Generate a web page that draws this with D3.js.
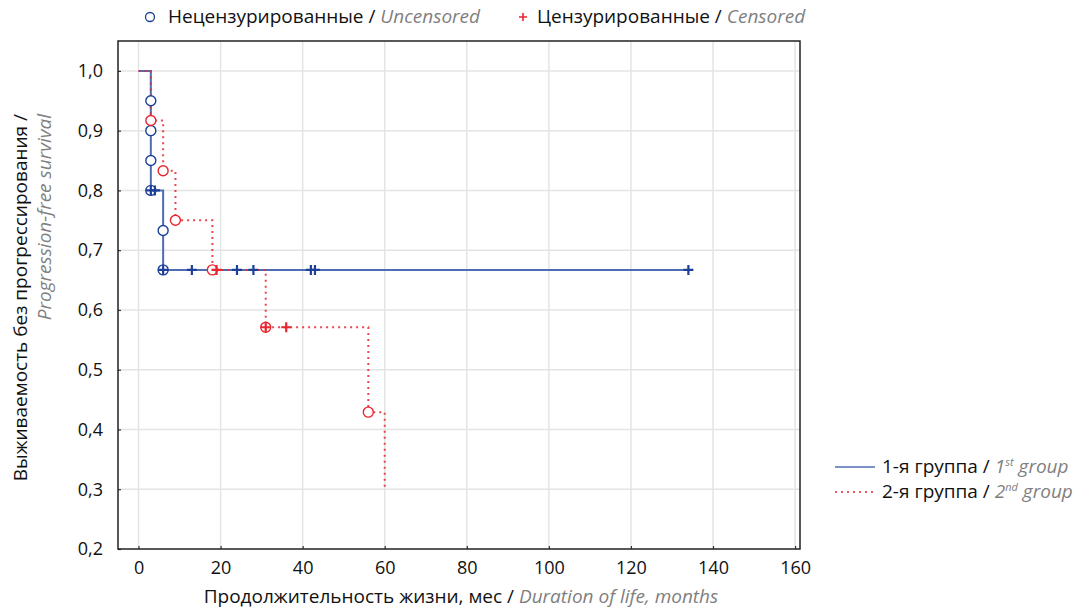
<!DOCTYPE html>
<html>
<head>
<meta charset="utf-8">
<script src="https://cdn.jsdelivr.net/npm/d3@7"></script>
<style>
  body { margin: 0; background: #fff; }
  text { font-family: "Open Sans", "DejaVu Sans", sans-serif; }
</style>
</head>
<body>
<svg id="canvas"></svg>
<script>
// tick labels
const xTicks = [0, 20, 40, 60, 80, 100, 120, 140, 160];
const yTicks = [0.2, 0.3, 0.4, 0.5, 0.6, 0.7, 0.8, 0.9, 1.0];

// group 1 (solid blue) - KM step curve
const g1Time = [0, 3, 6, 134];
const g1Surv = [1.0, 0.8, 0.667, 0.667];
// uncensored events (circles)
const g1EventTime = [3, 3, 3, 3, 6, 6];
const g1EventSurv = [0.95, 0.9, 0.85, 0.8, 0.733, 0.667];
// censored (crosses)
const g1CensTime = [3, 4, 6, 13, 24, 28, 42, 43, 134];
const g1CensSurv = [0.8, 0.8, 0.667, 0.667, 0.667, 0.667, 0.667, 0.667, 0.667];

// group 2 (dotted red)
const g2Time = [0, 3, 6, 9, 18, 31, 56, 60];
const g2Surv = [1.0, 0.917, 0.833, 0.75, 0.667, 0.571, 0.429, 0.3];
const g2EventTime = [3, 6, 9, 18, 31, 56];
const g2EventSurv = [0.917, 0.833, 0.75, 0.667, 0.571, 0.429];
const g2CensTime = [19, 31, 36];
const g2CensSurv = [0.667, 0.571, 0.571];

const width = 1079;
const height = 612;
const svg = d3.select("#canvas").attr("width", width).attr("height", height);

// plot frame
const marginLeft = 118;
const marginRight = 800;
const marginTop = 41;
const marginBottom = 549;

const blueLine = "#4f6db3";
const blueMark = "#1c3f98";
const red = "#e8262f";
const gray = "#7f7f7f";

const x = d3.scaleLinear().domain([-5, 161.2]).range([marginLeft, marginRight]);
const y = d3.scaleLinear().domain([0.2, 1.05]).range([marginBottom, marginTop]);

// grid
svg.append("g").selectAll("line")
    .data(xTicks)
    .join("line")
    .attr("x1", d => x(d)).attr("x2", d => x(d))
    .attr("y1", marginTop).attr("y2", marginBottom)
    .attr("stroke", "#e4e4e4").attr("stroke-width", 1.5);

svg.append("g").selectAll("line")
    .data(yTicks.filter(d => d > 0.2))
    .join("line")
    .attr("x1", marginLeft).attr("x2", marginRight)
    .attr("y1", d => y(d)).attr("y2", d => y(d))
    .attr("stroke", "#e4e4e4").attr("stroke-width", 1.5);

// axes (ticks inward, no domain line - frame drawn separately)
const xAxis = svg.append("g")
    .attr("transform", `translate(0,${marginBottom})`)
    .call(d3.axisBottom(x).tickValues(xTicks).tickSize(-3).tickPadding(12));
const yAxis = svg.append("g")
    .attr("transform", `translate(${marginLeft},0)`)
    .call(d3.axisLeft(y).tickValues(yTicks).tickSize(-3).tickPadding(15)
        .tickFormat(d => d3.format(".1f")(d).replace(".", ",")));
[xAxis, yAxis].forEach(a => {
    a.select(".domain").remove();
    a.selectAll(".tick line").attr("stroke", "#333").attr("stroke-width", 1.2);
    a.selectAll("text").attr("font-size", 18).attr("fill", "#111")
        .style("font-family", "'Open Sans', sans-serif");
});

svg.append("rect")
    .attr("x", marginLeft).attr("y", marginTop)
    .attr("width", marginRight - marginLeft).attr("height", marginBottom - marginTop)
    .attr("fill", "none").attr("stroke", "#222").attr("stroke-width", 1.5);

// step curves
const stepLine = d3.line()
    .x(d => x(d[0]))
    .y(d => y(d[1]))
    .curve(d3.curveStepAfter);

svg.append("path")
    .attr("d", stepLine(d3.zip(g1Time, g1Surv)))
    .attr("fill", "none").attr("stroke", blueLine).attr("stroke-width", 2);

svg.append("path")
    .attr("d", stepLine(d3.zip(g2Time, g2Surv)))
    .attr("fill", "none").attr("stroke", red).attr("stroke-width", 2)
    .attr("stroke-dasharray", "2 4").attr("opacity", 0.85);

// markers
function circles(times, surv, color) {
    svg.append("g").selectAll("circle")
        .data(d3.zip(times, surv))
        .join("circle")
        .attr("cx", d => x(d[0])).attr("cy", d => y(d[1]))
        .attr("r", 5)
        .attr("fill", "#fff").attr("stroke", color).attr("stroke-width", 1.4);
}
function crosses(times, surv, color) {
    const s = 5;
    svg.append("g").selectAll("path")
        .data(d3.zip(times, surv))
        .join("path")
        .attr("d", d => {
            const cx = x(d[0]), cy = y(d[1]);
            return `M${cx - s},${cy}H${cx + s}M${cx},${cy - s}V${cy + s}`;
        })
        .attr("stroke", color).attr("stroke-width", 2.2).attr("fill", "none");
}
circles(g1EventTime, g1EventSurv, blueMark);
circles(g2EventTime, g2EventSurv, red);
crosses(g1CensTime, g1CensSurv, blueMark);
crosses(g2CensTime, g2CensSurv, red);

// top legend
svg.append("circle").attr("cx", 150).attr("cy", 17).attr("r", 4.5)
    .attr("fill", "#fff").attr("stroke", blueMark).attr("stroke-width", 1.3);
const t1 = svg.append("text").attr("x", 168).attr("y", 23).attr("font-size", 19);
t1.append("tspan").text("Нецензурированные / ").attr("fill", "#111");
t1.append("tspan").text("Uncensored").attr("fill", gray).attr("font-style", "italic");

svg.append("path").attr("d", "M519,17H527M523,13V21")
    .attr("stroke", red).attr("stroke-width", 1.6);
const t2 = svg.append("text").attr("x", 537).attr("y", 23).attr("font-size", 19);
t2.append("tspan").text("Цензурированные / ").attr("fill", "#111");
t2.append("tspan").text("Censored").attr("fill", gray).attr("font-style", "italic");

// right legend
const groups = [
    { name: "1-я группа / ", num: "1", sup: "st", color: blueLine, dash: null },
    { name: "2-я группа / ", num: "2", sup: "nd", color: red, dash: "2 4" }
];
groups.forEach((g, i) => {
    const ly = 467 + i * 25;
    svg.append("line")
        .attr("x1", 835).attr("x2", 875).attr("y1", ly).attr("y2", ly)
        .attr("stroke", g.color).attr("stroke-width", 1.6)
        .attr("stroke-dasharray", g.dash);
    const t = svg.append("text").attr("x", 882).attr("y", ly + 6).attr("font-size", 19).attr("fill", "#111");
    t.append("tspan").text(g.name);
    t.append("tspan").text(g.num).attr("fill", gray).attr("font-style", "italic");
    t.append("tspan").text(g.sup).attr("fill", gray).attr("font-style", "italic")
        .attr("font-size", 11).attr("dy", -7);
    t.append("tspan").text(" group").attr("fill", gray).attr("font-style", "italic").attr("dy", 7);
});

// axis titles
const xt = svg.append("text").attr("x", 461).attr("y", 603)
    .attr("text-anchor", "middle").attr("font-size", 19);
xt.append("tspan").text("Продолжительность жизни, мес / ").attr("fill", "#111");
xt.append("tspan").text("Duration of life, months").attr("fill", gray).attr("font-style", "italic");

svg.append("text")
    .attr("transform", "translate(27,114) rotate(-90)")
    .attr("text-anchor", "end").attr("font-size", 19).attr("fill", "#111")
    .text("Выживаемость без прогрессирования /");
svg.append("text")
    .attr("transform", "translate(51,114) rotate(-90)")
    .attr("text-anchor", "end").attr("font-size", 19).attr("fill", gray)
    .attr("font-style", "italic")
    .text("Progression-free survival");
</script>
</body>
</html>
